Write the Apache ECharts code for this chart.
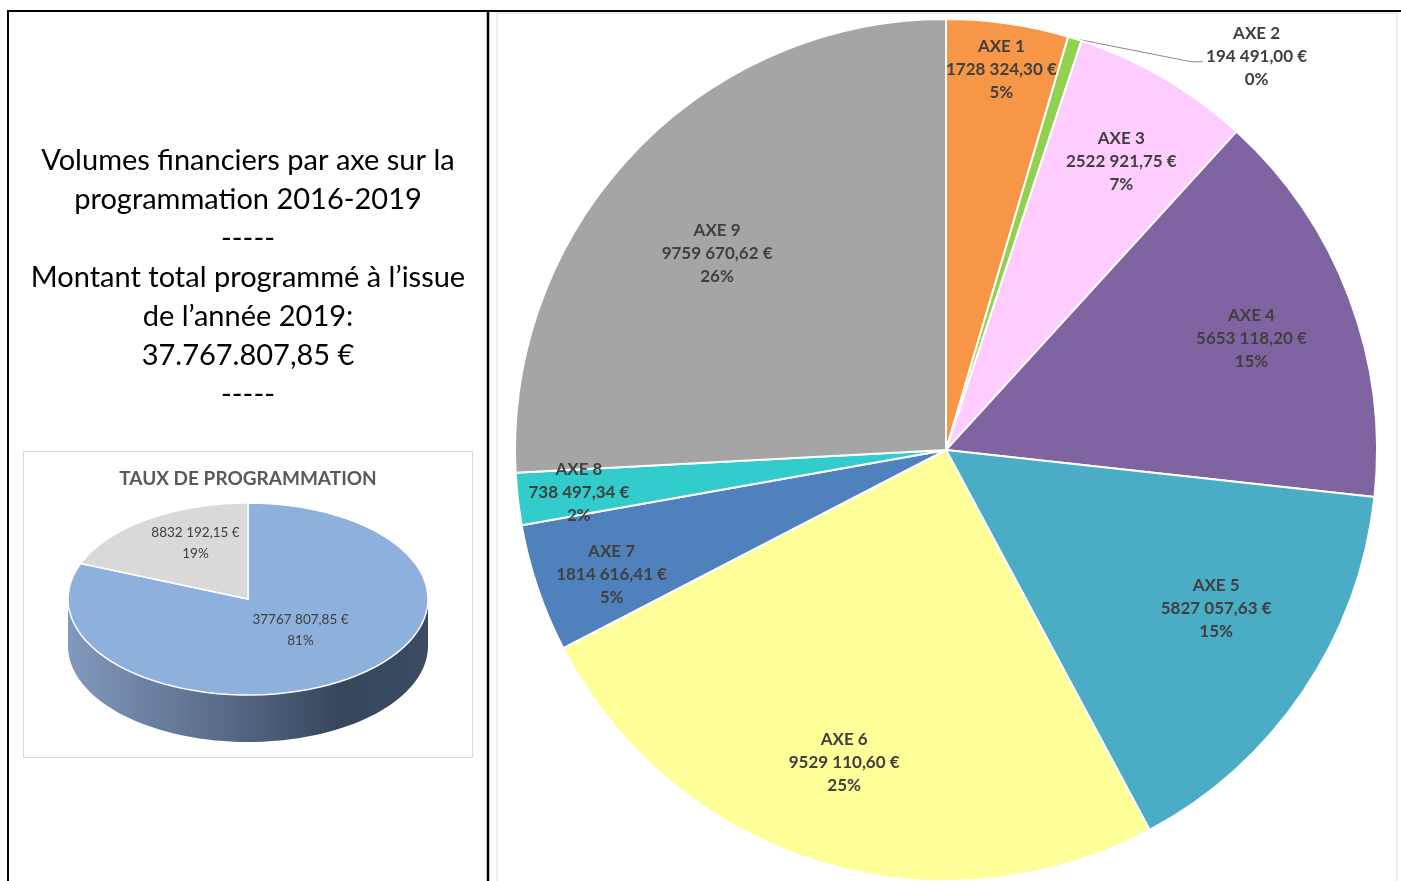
<!DOCTYPE html>
<html>
<head>
<meta charset="utf-8">
<script src="https://cdn.jsdelivr.net/npm/echarts@6/dist/echarts.min.js"></script>
<style>
html, body { margin: 0; padding: 0; background: #fff; }
#chart { width: 1401px; height: 881px; }
</style>
</head>
<body>
<div id="chart"></div>
<script>
// Volumes financiers par axe (grand camembert)
var axeNames = ['AXE 1', 'AXE 2', 'AXE 3', 'AXE 4', 'AXE 5', 'AXE 6', 'AXE 7', 'AXE 8', 'AXE 9'];
var axeValues = [1728324.30, 194491.00, 2522921.75, 5653118.20, 5827057.63, 9529110.60, 1814616.41, 738497.34, 9759670.62];
var axePctLabels = ['5%', '0%', '7%', '15%', '15%', '25%', '5%', '2%', '26%'];
var axeColors = ['#F79646', '#92D050', '#FFCCFF', '#8064A2', '#4BACC6', '#FFFF99', '#4F81BD', '#33CCCC', '#A5A5A5'];
// position des etiquettes : fraction du rayon + petit decalage
var axeLabelFrac = [0.89, 0, 0.78, 0.75, 0.73, 0.76, 0.83, 0.85, 0.70];
var axeLabelNudge = [[0, 2], [0, 0], [4, 4], [0, 4], [7, -19], [-4, -3], [7, 9], [0, 0], [-8, 13]];

// Taux de programmation (petit camembert 3D)
var tauxNames = ['Programmé', 'Restant'];
var tauxValues = [37767807.85, 8832192.15];
var tauxColors = ['#8DB0DD', '#D9D9D9'];

var titleLines = [
    'Volumes financiers par axe sur la',
    'programmation 2016-2019',
    '-----',
    'Montant total programmé à l\u2019issue',
    'de l\u2019année 2019:',
    '37.767.807,85 €',
    '-----'
];

function fmtEuro(v) {
    var cents = Math.round(v * 100);
    var ent = Math.floor(cents / 100);
    var dec = String(cents % 100).padStart(2, '0');
    var s = ent >= 1000 ? Math.floor(ent / 1000) + ' ' + String(ent % 1000).padStart(3, '0') : String(ent);
    return s + ',' + dec + ' €';
}

var chart = echarts.init(document.getElementById('chart'));

var R = 431;          // rayon du grand camembert
var CENTER = [946, 450];
var labelStyle = {
    fontFamily: 'Lato', fontWeight: 'bold', fontSize: 17, color: '#404040', lineHeight: 23, align: 'center'
};
function axeLabel(p) {
    return '{a|' + p.name + '}\n{a|' + fmtEuro(p.value) + '}\n{a|' + axePctLabels[p.dataIndex] + '}';
}

// petit camembert "3D" : ellipse dessinee en serie custom
var SP = { cx: 248, cy: 599, rx: 180, ry: 96, depth: 47 };
function ellPt(t, dy) {
    return [SP.cx + SP.rx * Math.sin(t), SP.cy - SP.ry * Math.cos(t) + dy];
}
var sideGradient = new echarts.graphic.LinearGradient(0, 0, 1, 0, [
    { offset: 0, color: '#8299BE' },
    { offset: 0.45, color: '#566985' },
    { offset: 0.75, color: '#36465C' },
    { offset: 1, color: '#3B4B62' }
]);
function renderTaux(params, api) {
    var i = params.dataIndex;
    var total = tauxValues.reduce(function (a, b) { return a + b; }, 0);
    var before = 0;
    for (var j = 0; j < i; j++) before += tauxValues[j];
    var v = api.value(0);
    var a0 = before / total * 2 * Math.PI, a1 = (before + v) / total * 2 * Math.PI;
    var N = 80, k;
    var children = [];
    var s = Math.max(a0, Math.PI / 2), e = Math.min(a1, 3 * Math.PI / 2);
    if (e > s) {
        var side = [];
        for (k = 0; k <= N; k++) side.push(ellPt(s + (e - s) * k / N, 0));
        for (k = N; k >= 0; k--) side.push(ellPt(s + (e - s) * k / N, SP.depth));
        children.push({ type: 'polygon', z2: 1, shape: { points: side }, style: { fill: sideGradient } });
    }
    var top = [[SP.cx, SP.cy]];
    for (k = 0; k <= N; k++) top.push(ellPt(a0 + (a1 - a0) * k / N, 0));
    children.push({ type: 'polygon', z2: 2, shape: { points: top }, style: { fill: tauxColors[i], stroke: '#fff', lineWidth: 1.5 } });
    var m = (a0 + a1) / 2;
    children.push({
        type: 'text', z2: 3,
        x: SP.cx + SP.rx * 0.52 * Math.sin(m),
        y: SP.cy - SP.ry * 0.52 * Math.cos(m) - 10 - (i === 1 ? 5 : 0),
        style: {
            text: fmtEuro(v) + '\n' + Math.round(v / total * 100) + '%',
            align: 'center', verticalAlign: 'middle',
            fill: '#404040', fontSize: 13.5, fontFamily: 'Lato', lineHeight: 21
        }
    });
    return { type: 'group', children: children };
}

var series = [];
// camembert principal (secteurs + etiquette externe de l'AXE 2)
series.push({
    type: 'pie',
    center: CENTER,
    radius: [0, R],
    startAngle: 90,
    clockwise: true,
    avoidLabelOverlap: false,
    animation: false,
    silent: true,
    itemStyle: { borderColor: '#fff', borderWidth: 2 },
    label: {
        show: true, position: 'outside', formatter: axeLabel,
        rich: { a: labelStyle }
    },
    labelLine: { show: true, length: 4, length2: 125, lineStyle: { color: '#8C8C8C', width: 1.2 } },
    labelLayout: function (p) {
        if (p.dataIndex !== 1) return {};
        var pts = p.labelLinePoints;
        if (!pts) return { dy: 22 };
        var p0 = pts[0], p2 = pts[pts.length - 1];
        return {
            dy: 22,
            labelLinePoints: [p0, [p2[0] - 10, p0[1] + 23], [p2[0] + 2, p0[1] + 23]]
        };
    },
    data: axeNames.map(function (n, i) {
        return {
            name: n, value: axeValues[i],
            itemStyle: { color: axeColors[i] },
            label: { show: i === 1 },
            labelLine: { show: i === 1 }
        };
    })
});
// etiquettes internes : une serie transparente par axe pour placer l'etiquette au bon rayon
axeNames.forEach(function (n, idx) {
    if (axeLabelFrac[idx] === 0) return;
    var r0 = Math.round((2 * axeLabelFrac[idx] - 1) * R);
    series.push({
        type: 'pie',
        center: CENTER,
        radius: [r0, R],
        startAngle: 90,
        clockwise: true,
        avoidLabelOverlap: false,
        animation: false,
        silent: true,
        z: 3,
        itemStyle: { color: 'rgba(0,0,0,0)', borderWidth: 0 },
        emphasis: { disabled: true },
        label: { show: true, position: 'inside', formatter: axeLabel, rich: { a: labelStyle } },
        labelLine: { show: false },
        labelLayout: function (p) {
            return p.dataIndex === idx ? { dx: axeLabelNudge[idx][0], dy: axeLabelNudge[idx][1] } : {};
        },
        data: axeNames.map(function (nm, i) {
            return { name: nm, value: axeValues[i], label: { show: i === idx } };
        })
    });
});
series.push({
    type: 'custom',
    coordinateSystem: 'none',
    animation: false,
    silent: true,
    renderItem: renderTaux,
    data: tauxValues.map(function (v) { return [v]; })
});

chart.setOption({
    backgroundColor: '#fff',
    animation: false,
    graphic: [
        // cadre du tableau
        { type: 'rect', shape: { x: 497, y: 13, width: 900, height: 880 }, style: { fill: 'none', stroke: '#D9D9D9', lineWidth: 1 } },
        { type: 'line', shape: { x1: 7, y1: 11, x2: 1401, y2: 11 }, style: { stroke: '#000', lineWidth: 2 } },
        { type: 'line', shape: { x1: 8, y1: 10, x2: 8, y2: 881 }, style: { stroke: '#000', lineWidth: 2 } },
        { type: 'line', shape: { x1: 488, y1: 10, x2: 488, y2: 881 }, style: { stroke: '#000', lineWidth: 2.5 } },
        // texte de gauche
        {
            type: 'text', x: 248, y: 141,
            style: {
                text: titleLines.join('\n'), align: 'center', verticalAlign: 'top',
                fill: '#000', fontSize: 29, fontFamily: 'Lato', lineHeight: 39
            }
        },
        // cadre du petit graphique
        { type: 'rect', shape: { x: 23.5, y: 451.5, width: 449, height: 306 }, style: { fill: 'none', stroke: '#D9D9D9', lineWidth: 1 } },
        {
            type: 'text', x: 248, y: 479,
            style: {
                text: 'TAUX DE PROGRAMMATION', align: 'center', verticalAlign: 'middle',
                fill: '#595959', fontSize: 19, fontWeight: 'bold', fontFamily: 'Lato'
            }
        }
    ],
    series: series
});
</script>
</body>
</html>
